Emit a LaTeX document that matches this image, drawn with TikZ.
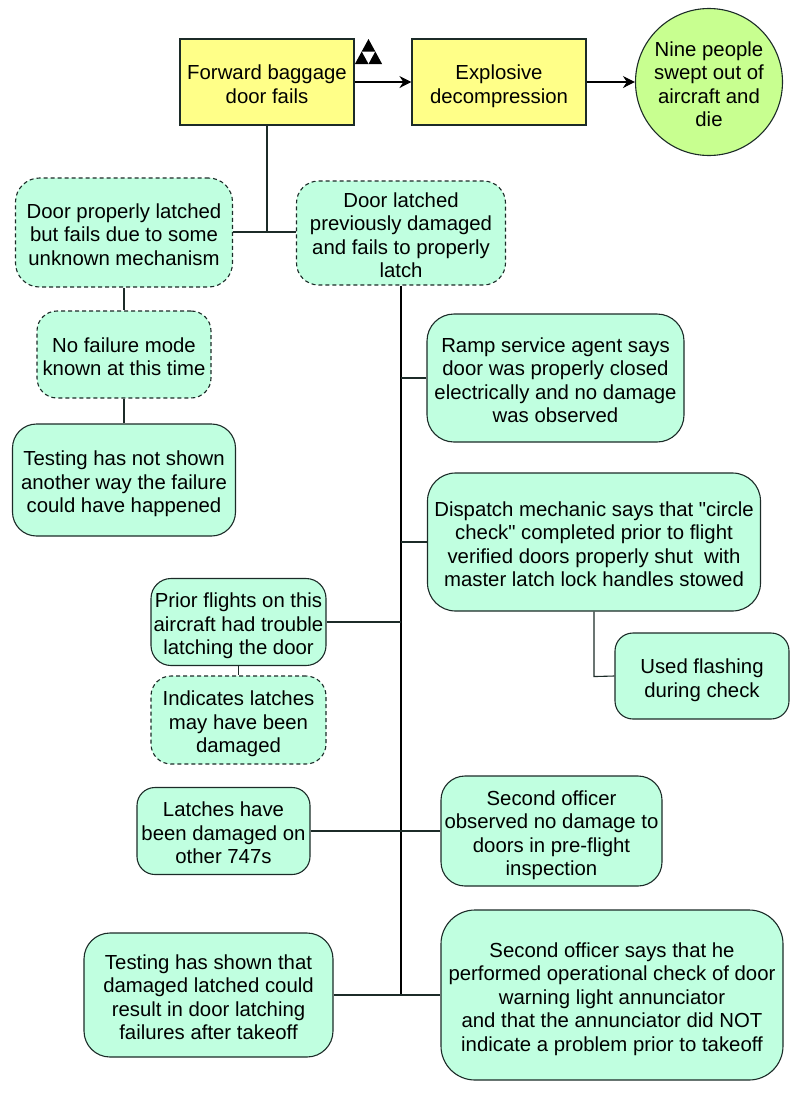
\documentclass[tikz,border=0pt]{standalone}
\usepackage{fontspec}
\setmainfont{Liberation Sans}[Ligatures=TeXOff]
\usetikzlibrary{arrows.meta}
\definecolor{hazardfill}{HTML}{FFFF88}
\definecolor{evidfill}{HTML}{C0FFE0}
\definecolor{lossfill}{HTML}{C8FF90}
\definecolor{edgeink}{HTML}{1C2B28}
\tikzset{
  boxsize/.style n args={3}{minimum width=#1pt,minimum height=#2pt,rounded corners=#3pt},
  factbox/.style={draw=edgeink,line width=1.1pt,align=center,inner sep=0pt,fill=evidfill,
    font=\fontsize{20.35}{23.4}\selectfont,text depth=0pt,
    execute at begin node={\lower4pt\hbox\bgroup},execute at end node={\egroup}},
  guessbox/.style={factbox,dash pattern=on 4pt off 3pt},
  eventbox/.style={factbox,fill=hazardfill},
  lossnode/.style={factbox,circle,fill=lossfill,minimum size=147pt},
  link/.style={draw=edgeink,line width=1.1pt},
  spine/.style={draw=black,line width=2pt},
  flow/.style={draw=black,line width=1.1pt,-{Stealth[length=12pt,width=12pt]}}
}
\begin{document}
\begin{tikzpicture}[x=1pt,y=-1pt]
\useasboundingbox (0,0) rectangle (800,1098);
% top row
\node[eventbox,boxsize={174}{86}{0}] (doorfails) at (267,82) {Forward baggage\\door fails};
\node[eventbox,boxsize={174}{86}{0}] (decomp) at (499,82) {Explosive\\decompression};
\node[lossnode] (nine) at (709,82) {Nine people\\swept out of\\aircraft and~\\die};
% left branch
\node[guessbox,boxsize={217}{109}{24}] (unknown) at (124,232.5) {Door properly latched\\but fails due to some\\unknown mechanism};
\node[guessbox,boxsize={174}{87}{20}] (nomode) at (124,354.5) {No failure mode\\known at this time};
\node[factbox,boxsize={223}{112}{24}] (testnone) at (124,480) {Testing has not shown\\another way the failure\\could have happened};
% right branch
\node[guessbox,boxsize={209}{104}{22}] (damaged) at (401,233) {Door latched\\previously damaged\\and fails to properly\\latch};
\node[factbox,boxsize={257}{128}{27}] (ramp) at (555.5,378) {Ramp service agent says\\door was properly closed\\electrically and no damage\\was observed};
\node[factbox,boxsize={333}{138}{28}] (mechanic) at (594,542) {Dispatch mechanic says that "circle\\check" completed prior to flight\\verified doors properly shut~ with\\master latch lock handles stowed};
\node[factbox,boxsize={174}{86}{18}] (flashing) at (702,676) {Used flashing\\during check};
\node[factbox,boxsize={175}{87}{20}] (prior) at (238.5,622) {Prior flights on this\\aircraft had trouble\\latching the door};
\node[guessbox,boxsize={175}{88}{20}] (indicates) at (238.5,720) {Indicates latches\\may have been\\damaged};
\node[factbox,boxsize={173}{87}{18}] (others) at (223.5,831) {Latches have\\been damaged on\\other 747s};
\node[factbox,boxsize={221}{110}{24}] (inspect) at (551.5,831) {Second officer\\observed no damage to\\doors in pre-flight\\inspection};
\node[factbox,boxsize={249}{124}{26}] (testdamage) at (208.5,995) {Testing has shown that\\damaged latched could\\result in door latching\\failures after takeoff};
\node[factbox,boxsize={342}{170}{34}] (annunc) at (612,995) {Second officer says that he\\performed operational check of door\\warning light annunciator\\and that the annunciator did NOT\\indicate a problem prior to takeoff};
% free ends of the links
\coordinate (fork) at (267,232);
\coordinate (spineend) at (401,995);
% arrows
\draw[flow] (doorfails) -- (decomp);
\draw[flow] (decomp) -- (nine);
% links
\draw[link] (doorfails) -- (fork);
\draw[link] (fork) -- (unknown.east |- fork);
\draw[link] (fork) -- (damaged.west |- fork);
\draw[link] (unknown) -- (nomode);
\draw[link] (nomode) -- (testnone);
\draw[link] (prior) -- (indicates);
\draw[link] (mechanic.south) -- ++(0,65) -- (flashing.west);
\draw[spine] (damaged.south) -- (spineend);
\foreach \name in {ramp,mechanic,inspect,annunc,prior,others,testdamage}
  \draw[link] (\name) -- (\name -| spineend);
% undeveloped mark
\foreach \x/\y in {368.5/39,361.7/51.5,375.3/51.5}
  \fill[black] (\x,\y) -- (\x+6.8,\y+12.5) -- (\x-6.8,\y+12.5) -- cycle;
\end{tikzpicture}
\end{document}
